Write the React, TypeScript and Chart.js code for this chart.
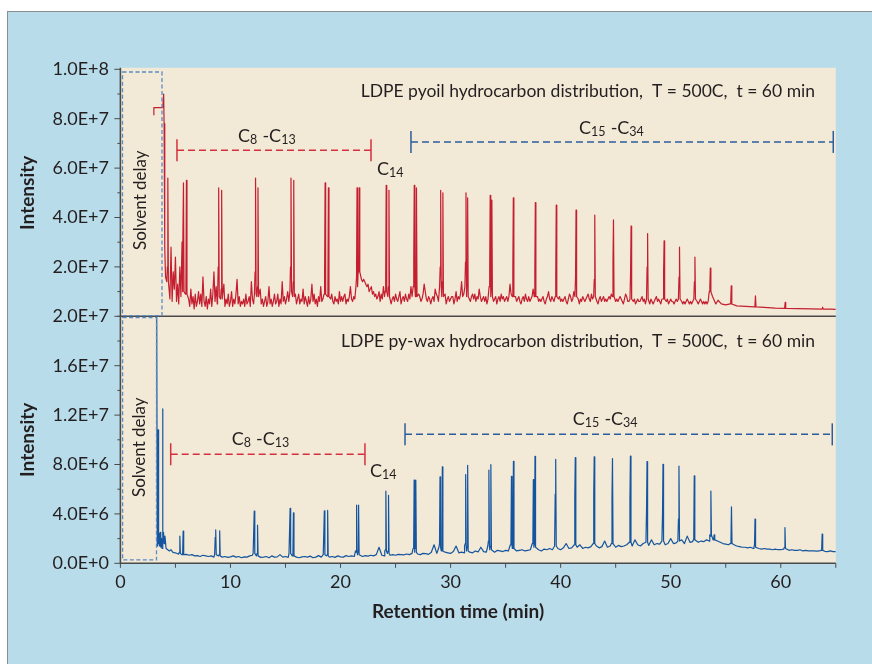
import React, { useEffect, useRef } from "react";
import { Chart, registerables } from "chart.js";

Chart.register(...registerables);

// ---------------- text ----------------
const FONT = "Lato, 'Open Sans', 'DejaVu Sans', sans-serif";
const Y_TITLE = "Intensity";
const X_TITLE = "Retention time (min)";
const TOP_TITLE = "LDPE pyoil hydrocarbon distribution,  T = 500C,  t = 60 min";
const BOT_TITLE = "LDPE py-wax hydrocarbon distribution,  T = 500C,  t = 60 min";
const SOLVENT = "Solvent delay";

// ---------------- axes ----------------
const X_MIN = 0;
const X_MAX = 65;
const X_STEP = 5;
const X_LABEL_STEP = 10;
const X_LABEL_MAX = 60;
const TOP_MAX = 1e8;
const TOP_STEP = 1e7;
const TOP_LABEL_STEP = 2e7;
const BOT_MAX = 2e7;
const BOT_STEP = 2e6;
const BOT_LABEL_STEP = 4e6;

const UNIT = 1e6; // all intensity values below are in units of 1E6

// ---------------- top panel: LDPE pyoil ----------------
// solvent-front part of the trace [time, intensity]
const topLead: [number, number][] = [
  [3.02, 81.5], [3.04, 84.5], [3.85, 84.5], [3.93, 90], [3.97, 78],
  [4.01, 50], [4.05, 28], [4.1, 16],
];
// baseline / noise sampled every 0.1 min from 4.2 min to 54.1 min (one row per minute)
const topNoiseStart = 4.2;
const topNoiseStep = 0.1;
const topNoise: number[] = [
  16, 9, 22, 7, 28, 6, 18, 11, 24, 6,
  13, 5, 20, 8, 30, 6, 12, 9, 5, 10,
  7, 4, 11, 5, 8, 3, 9, 4, 6, 10,
  5, 9, 4, 16, 6, 4, 8, 3, 7, 5,
  11, 4, 9, 18, 6, 12, 5, 7, 4, 8,
  5, 8, 13, 4, 7, 5, 9, 4, 6, 10,
  4, 7, 5, 9, 15, 5, 8, 4, 6, 5,
  7, 4, 9, 5, 6, 8, 4, 14, 7, 5,
  9, 6, 4, 8, 5, 11, 5, 7, 4, 6,
  8, 4, 6, 12, 5, 7, 4, 6, 9, 5,
  6, 9, 4, 7, 5, 14, 6, 8, 5, 7,
  10, 6, 7, 5, 8, 4, 6, 9, 5, 7,
  9, 5, 7, 6, 11, 5, 8, 6, 4, 8,
  5, 7, 13, 6, 9, 5, 7, 4, 8, 6,
  12, 6, 7, 5, 8, 6, 5, 9, 6, 7,
  9, 6, 5, 8, 6, 7, 5, 10, 6, 8,
  6, 8, 9, 5, 7, 6, 8, 12, 7, 6,
  8, 7, 6, 9, 7, 17, 16, 15, 14, 15,
  14, 13, 12, 13, 10, 11, 12, 9, 10, 8,
  9, 7, 8, 10, 6, 9, 7, 12, 8, 7,
  7, 6, 8, 9, 5, 7, 8, 6, 9, 7,
  6, 8, 10, 5, 7, 8, 6, 9, 7, 6,
  9, 7, 12, 8, 6, 7, 8, 5, 7, 9,
  8, 6, 7, 9, 13, 10, 7, 6, 8, 7,
  5, 7, 8, 6, 11, 9, 8, 6, 7, 9,
  7, 6, 8, 9, 5, 7, 8, 6, 7, 8,
  8, 5, 7, 10, 6, 8, 7, 9, 14, 8,
  9, 6, 7, 8, 5, 7, 6, 8, 9, 7,
  9, 6, 8, 7, 11, 8, 6, 7, 8, 6,
  8, 5, 7, 9, 6, 7, 8, 6, 7, 8,
  5, 7, 8, 6, 9, 7, 8, 6, 7, 8,
  6, 8, 13, 9, 8, 5, 7, 8, 6, 7,
  8, 6, 5, 7, 8, 6, 9, 7, 6, 8,
  6, 7, 8, 11, 7, 5, 7, 8, 6, 7,
  6, 7, 8, 6, 5, 7, 8, 10, 7, 6,
  8, 7, 6, 9, 7, 5, 7, 8, 6, 7,
  6, 7, 8, 6, 5, 7, 9, 8, 6, 7,
  10, 7, 6, 8, 7, 5, 7, 6, 8, 7,
  6, 7, 8, 9, 7, 6, 9, 7, 6, 7,
  7, 6, 5, 7, 8, 6, 7, 8, 6, 7,
  6, 7, 8, 7, 9, 6, 5, 7, 6, 7,
  6, 7, 8, 7, 6, 5, 7, 9, 8, 6,
  6, 7, 8, 7, 6, 7, 5, 6, 7, 6,
  6, 7, 8, 6, 7, 5, 6, 7, 6, 5,
  7, 6, 5, 6, 7, 8, 6, 7, 6, 5,
  7, 6, 5, 6, 6, 7, 5, 6, 7, 6,
  6, 5, 6, 7, 6, 5, 6, 7, 6, 5,
  6, 5, 6, 7, 6, 5, 6, 5, 6, 6,
  6, 5, 6, 5, 6, 7, 6, 5, 6, 5,
  6, 5, 6, 5, 9, 10, 8, 7, 6, 5,
];
// late, quiet baseline [time, intensity]
const topTail: [number, number][] = [
  [54.3, 6.5], [54.6, 5], [55.0, 4.6], [56.0, 4.2], [56.8, 4.0], [58.5, 3.6],
  [59.5, 3.3], [61.5, 3.1], [62.8, 3.0], [64.5, 2.9], [65, 2.8],
];
// peaks [time, apex, shoulder just before apex, foot]
const topPeaks: [number, number, number, number][] = [
  [4.31, 56, 20, 14],
  [5.73, 54, 24, 10], [6.0, 55, 14, 9],
  [8.93, 52, 20, 8], [9.2, 51, 11, 7],
  [12.28, 56, 18, 9], [12.5, 52, 12, 8],
  [15.5, 56, 20, 10], [15.75, 55, 14, 8],
  [18.6, 54, 18, 9], [18.9, 52, 13, 8],
  [21.5, 52, 16, 12], [21.7, 52, 20, 18],
  [24.15, 53, 16, 10], [24.4, 51, 12, 8],
  [26.7, 53, 24, 12], [26.9, 52, 14, 8],
  [29.1, 51, 20, 12], [29.3, 50, 14, 8],
  [31.4, 50, 22, 12], [31.55, 48, 14, 8],
  [33.6, 49, 20, 12], [33.75, 47, 12, 8],
  [35.7, 48, 18, 8],
  [37.7, 46, 18, 8],
  [39.6, 45, 16, 8],
  [41.4, 43, 16, 8],
  [43.1, 41, 15, 8],
  [44.8, 39, 22, 8],
  [46.4, 36.5, 18, 7],
  [47.9, 33.5, 20, 7],
  [49.4, 30.5, 18, 7],
  [50.8, 28, 16, 7],
  [52.2, 24, 14, 7],
  [53.6, 19.5, 12, 10],
  [55.5, 12.3, 6, 5],
  [57.7, 8.3, 4.5, 3.8],
  [60.4, 5.6, 3.5, 3.2],
  [63.8, 3.7, 3, 2.9],
];

// ---------------- bottom panel: LDPE py-wax ----------------
const botLead: [number, number][] = [
  [3.3, 20], [3.35, 1.4], [3.39, 2.0], [3.43, 10.8], [3.47, 1.6], [3.52, 2.4],
  [3.56, 1.4], [3.62, 2.5], [3.67, 1.3], [3.74, 2.0], [3.79, 1.2], [3.83, 12.5],
  [3.87, 2.0], [3.92, 2.5], [3.97, 1.6], [4.05, 2.2], [4.15, 1.2], [4.3, 1.1],
  [4.45, 1.0], [4.6, 1.1], [4.75, 0.9], [4.9, 0.85],
];
// baseline sampled every 0.25 min from 5 min to 65 min (one row per 2 min)
const botNoiseStart = 5;
const botNoiseStep = 0.25;
const botNoise: number[] = [
  0.85, 0.75, 0.8, 0.7, 0.72, 0.65, 0.7, 0.6,
  0.62, 0.55, 0.65, 0.6, 0.55, 0.6, 0.5, 0.58,
  0.6, 0.5, 0.55, 0.48, 0.52, 0.6, 0.5, 0.55,
  0.45, 0.52, 0.5, 0.6, 0.65, 0.5, 0.55, 0.48,
  0.5, 0.55, 0.45, 0.6, 0.5, 0.52, 0.7, 0.5,
  0.55, 0.48, 0.5, 0.6, 0.5, 0.45, 0.52, 0.55,
  0.5, 0.58, 0.45, 0.5, 0.62, 0.5, 0.55, 0.6,
  0.5, 0.55, 0.48, 0.6, 0.52, 0.5, 0.62, 0.55,
  0.6, 0.55, 0.65, 0.6, 0.55, 0.62, 0.58, 0.65,
  0.6, 0.7, 1.3, 0.65, 0.6, 0.72, 0.65, 0.7,
  0.65, 0.72, 0.7, 0.68, 0.75, 0.7, 0.8, 0.72,
  0.75, 0.7, 0.8, 0.78, 0.72, 0.9, 1.5, 0.8,
  0.85, 0.8, 0.9, 0.85, 0.8, 0.95, 1.4, 0.85,
  0.9, 0.85, 0.95, 0.9, 0.85, 1.0, 0.92, 1.3,
  0.95, 0.9, 1.0, 0.95, 0.9, 1.05, 1.0, 0.95,
  1.05, 1.0, 1.1, 1.4, 1.0, 1.05, 1.1, 1.0,
  1.05, 1.1, 1.2, 1.05, 1.1, 1.0, 1.15, 1.1,
  1.2, 1.1, 1.15, 1.2, 1.1, 1.25, 1.6, 1.2,
  1.25, 1.2, 1.3, 1.5, 1.2, 1.3, 1.25, 1.35,
  1.3, 1.4, 1.25, 1.35, 1.8, 1.3, 1.4, 1.35,
  1.3, 1.45, 1.35, 1.4, 1.5, 1.8, 1.4, 1.9,
  1.5, 1.4, 1.6, 1.5, 1.45, 1.9, 1.5, 1.6,
  1.55, 1.7, 1.5, 1.6, 2.0, 1.6, 1.65, 1.7,
  1.9, 1.6, 2.2, 1.7, 1.75, 1.9, 1.7, 1.8,
  1.75, 1.9, 1.8, 2.1, 2.0, 1.8, 1.7, 1.6,
  1.55, 1.5, 1.45, 1.5, 1.4, 1.35, 1.3, 1.3,
  1.25, 1.3, 1.2, 1.25, 1.2, 1.15, 1.2, 1.15,
  1.15, 1.1, 1.15, 1.1, 1.1, 1.15, 1.1, 1.05,
  1.1, 1.05, 1.05, 1.1, 1.0, 1.05, 1.0, 1.0,
  1.0, 0.98, 1.0, 0.95, 0.97, 0.95, 1.0, 0.95,
  0.95,
];
const botTail: [number, number][] = [];
// peaks [time, apex, shoulder just before apex, foot]
const botPeaks: [number, number, number, number][] = [
  [5.4, 2.2, 0.9, 0.8], [5.7, 2.6, 0.8, 0.7],
  [8.66, 2.7, 2.1, 0.7], [9.02, 2.63, 0.7, 0.6],
  [12.16, 4.22, 0.8, 0.8], [12.46, 3.09, 0.8, 0.6],
  [15.42, 4.44, 0.8, 0.8], [15.72, 4.09, 0.8, 0.6],
  [18.53, 4.25, 0.7, 0.7], [18.83, 4.28, 0.7, 0.6],
  [21.46, 4.71, 0.9, 1.0], [21.64, 4.71, 1.0, 0.7],
  [24.12, 5.84, 1.1, 1.0], [24.36, 5.5, 1.0, 0.8],
  [26.69, 6.73, 1.3, 1.2], [26.84, 6.73, 1.2, 0.9],
  [29.04, 7.0, 1.6, 1.3], [29.25, 7.8, 1.3, 1.0],
  [31.37, 7.19, 1.6, 1.4], [31.55, 7.94, 1.4, 1.0],
  [33.48, 7.54, 1.8, 1.4], [33.66, 8.0, 1.4, 1.1],
  [35.53, 7.05, 1.8, 1.5], [35.71, 8.26, 1.5, 1.2],
  [37.52, 6.78, 1.8, 1.6], [37.67, 8.67, 1.6, 1.3],
  [39.55, 8.42, 5.6, 1.4],
  [41.33, 8.56, 5.4, 1.5],
  [43.05, 8.61, 5.6, 1.6],
  [44.71, 8.48, 5.25, 1.6],
  [46.34, 8.69, 5.1, 1.7],
  [47.85, 8.24, 4.4, 1.7],
  [49.3, 8.02, 3.9, 1.8],
  [50.75, 7.88, 3.6, 1.8],
  [52.14, 7.08, 2.4, 1.9],
  [53.65, 5.84, 2.2, 2.3], [53.95, 2.3, 2.0, 1.9],
  [55.52, 4.57, 1.8, 1.6],
  [57.66, 3.58, 1.5, 1.3],
  [60.38, 2.9, 1.3, 1.2],
  [63.76, 2.37, 1.1, 1.05],
];

// ---------------- annotations (data coordinates) ----------------
type Bracket = { from: number; to: number; level: number; color: string; label: string[]; lx: number; ly: number };
const RED_ANN = "#d5303e";
const BLUE_ANN = "#2b5d9e";
const topBrackets: Bracket[] = [
  { from: 5.14, to: 22.77, level: 6.72e7, color: RED_ANN, label: ["C", "8", " -C", "13"], lx: 10.69, ly: 7.05e7 },
  { from: 26.4, to: 64.77, level: 7.06e7, color: BLUE_ANN, label: ["C", "15", " -C", "34"], lx: 41.67, ly: 7.37e7 },
];
const botBrackets: Bracket[] = [
  { from: 4.57, to: 22.22, level: 8.83e6, color: RED_ANN, label: ["C", "8", " -C", "13"], lx: 10.11, ly: 9.55e6 },
  { from: 25.86, to: 64.68, level: 1.044e7, color: BLUE_ANN, label: ["C", "15", " -C", "34"], lx: 41.1, ly: 1.117e7 },
];
const topC14 = { x: 23.31, y: 5.71e7 };
const botC14 = { x: 22.68, y: 6.97e6 };
const topSolventBox = { x0: 0.19, x1: 3.78, y0: 3e5, y1: 9.89e7, lx: 1.87, ly: 4.7e7 };
const botSolventBox = { x0: 0.2, x1: 3.28, y0: 2.7e5, y1: 1.99e7, lx: 1.78, ly: 9.4e6 };
const topTitlePos = { x: 63.11, y: 8.88e7 };
const botTitlePos = { x: 63.11, y: 1.755e7 };

// ---------------- styles ----------------
const INK = "#231f20";
const RED = "#c41e30";
const BLUE = "#15559f";
const BEIGE = "#f2e9d6";
const SKY = "#b9dcea";
const AXIS = "#4a4a4a";
const BOX_BLUE = "#5b8bc4";

type Pt = { x: number; y: number };
function buildTrace(
  lead: [number, number][],
  noiseStart: number,
  noiseStep: number,
  noise: number[],
  peaks: [number, number, number, number][],
  tail: [number, number][]
): Pt[] {
  const pts: Pt[] = lead.map(([t, v]) => ({ x: t, y: v * UNIT }));
  noise.forEach((v, i) => {
    const t = +(noiseStart + i * noiseStep).toFixed(3);
    if (peaks.some((p) => Math.abs(p[0] - t) < 0.12)) return;
    pts.push({ x: t, y: v * UNIT });
  });
  peaks.forEach(([t, h, sh, ft]) => {
    pts.push(
      { x: t - 0.1, y: ft * UNIT },
      { x: t - 0.045, y: sh * UNIT },
      { x: t, y: h * UNIT },
      { x: t + 0.05, y: ft * UNIT }
    );
  });
  tail.forEach(([t, v]) => pts.push({ x: t, y: v * UNIT }));
  pts.sort((a, b) => a.x - b.x);
  return pts;
}

const isMultiple = (v: number, step: number) => Math.abs(v / step - Math.round(v / step)) < 1e-6;
const fmtE = (v: number) => v.toExponential(1).toUpperCase();

function drawSubText(ctx: CanvasRenderingContext2D, parts: string[], x: number, y: number) {
  let cx = x;
  parts.forEach((p, i) => {
    const sub = i % 2 === 1;
    ctx.font = sub ? `12.5px ${FONT}` : `18px ${FONT}`;
    ctx.fillText(p, cx, sub ? y + 2 : y);
    cx += ctx.measureText(p).width + (sub ? 0.5 : 0);
  });
}

const decorPlugin = {
  id: "decor",
  beforeDraw(chart: any) {
    const { ctx, chartArea: a } = chart;
    ctx.save();
    ctx.fillStyle = BEIGE;
    ctx.fillRect(a.left, a.top - 1.5, a.right - a.left, a.bottom - a.top + 2);
    ctx.restore();
  },
  afterDatasetsDraw(chart: any) {
    const { ctx, chartArea: a, scales } = chart;
    const xs = scales.x;
    const yT = scales.yTop;
    const yB = scales.yBot;
    const line = (x0: number, y0: number, x1: number, y1: number) => {
      ctx.beginPath();
      ctx.moveTo(x0, y0);
      ctx.lineTo(x1, y1);
      ctx.stroke();
    };
    ctx.save();
    // axes
    ctx.strokeStyle = AXIS;
    ctx.lineWidth = 1.6;
    const mid = yB.getPixelForValue(BOT_MAX);
    line(a.left, a.top - 1.5, a.left, a.bottom + 0.8);
    line(a.left, mid, a.right, mid);
    line(a.left, a.bottom, a.right, a.bottom);
    ctx.lineWidth = 1;
    for (const s of [yT, yB]) {
      s.ticks.forEach((t: any) => {
        const p = s.getPixelForValue(t.value);
        const len = t.label ? 6 : 3;
        line(a.left - len, p, a.left, p);
      });
    }
    xs.ticks.forEach((t: any) => {
      const p = xs.getPixelForValue(t.value);
      line(p, a.bottom, p, a.bottom + 4.5);
    });

    // solvent delay boxes
    const drawBox = (b: typeof topSolventBox, ys: any) => {
      const x0 = xs.getPixelForValue(b.x0);
      const x1 = xs.getPixelForValue(b.x1);
      const y0 = ys.getPixelForValue(b.y0);
      const y1 = ys.getPixelForValue(b.y1);
      ctx.save();
      ctx.strokeStyle = BOX_BLUE;
      ctx.lineWidth = 1.3;
      ctx.setLineDash([4, 2.5]);
      ctx.strokeRect(x0, y1, x1 - x0, y0 - y1);
      ctx.restore();
      ctx.save();
      ctx.translate(xs.getPixelForValue(b.lx), ys.getPixelForValue(b.ly));
      ctx.rotate(-Math.PI / 2);
      ctx.fillStyle = INK;
      ctx.font = `17px ${FONT}`;
      ctx.textAlign = "center";
      ctx.textBaseline = "middle";
      ctx.fillText(SOLVENT, 0, 0);
      ctx.restore();
    };
    drawBox(topSolventBox, yT);
    drawBox(botSolventBox, yB);

    // brackets
    const drawBracket = (b: Bracket, ys: any) => {
      const x0 = xs.getPixelForValue(b.from);
      const x1 = xs.getPixelForValue(b.to);
      const y = ys.getPixelForValue(b.level);
      ctx.save();
      ctx.strokeStyle = b.color;
      ctx.lineWidth = 1.5;
      ctx.setLineDash([7, 4]);
      line(x0, y, x1, y);
      ctx.setLineDash([]);
      line(x0, y - 11, x0, y + 11);
      line(x1, y - 11, x1, y + 11);
      ctx.fillStyle = INK;
      ctx.textAlign = "left";
      ctx.textBaseline = "alphabetic";
      drawSubText(ctx, b.label, xs.getPixelForValue(b.lx), ys.getPixelForValue(b.ly));
      ctx.restore();
    };
    topBrackets.forEach((b) => drawBracket(b, yT));
    botBrackets.forEach((b) => drawBracket(b, yB));
    ctx.fillStyle = INK;
    ctx.textBaseline = "alphabetic";
    ctx.textAlign = "left";
    drawSubText(ctx, ["C", "14"], xs.getPixelForValue(topC14.x), yT.getPixelForValue(topC14.y));
    drawSubText(ctx, ["C", "14"], xs.getPixelForValue(botC14.x), yB.getPixelForValue(botC14.y));

    // panel titles
    ctx.font = `17.5px ${FONT}`;
    ctx.textAlign = "right";
    ctx.fillText(TOP_TITLE, xs.getPixelForValue(topTitlePos.x), yT.getPixelForValue(topTitlePos.y));
    ctx.fillText(BOT_TITLE, xs.getPixelForValue(botTitlePos.x), yB.getPixelForValue(botTitlePos.y));

    // x-axis title
    ctx.font = `bold 19px ${FONT}`;
    ctx.textAlign = "center";
    ctx.textBaseline = "middle";
    ctx.fillText(X_TITLE, 458, 612);
    ctx.restore();
  },
};

export default function App() {
  const ref = useRef<HTMLCanvasElement>(null);
  useEffect(() => {
    const topData = buildTrace(topLead, topNoiseStart, topNoiseStep, topNoise, topPeaks, topTail);
    const botData = buildTrace(botLead, botNoiseStart, botNoiseStep, botNoise, botPeaks, botTail);
    const tickFont = { family: FONT, size: 18 };
    const titleFont = { family: FONT, size: 19, weight: "bold" as const };
    const chart = new Chart(ref.current as HTMLCanvasElement, {
      type: "line",
      data: {
        datasets: [
          {
            label: "pyoil",
            data: topData as any,
            xAxisID: "x",
            yAxisID: "yTop",
            borderColor: RED,
            borderWidth: 1.2,
            borderJoinStyle: "round",
            pointRadius: 0,
            tension: 0,
            fill: false,
          },
          {
            label: "py-wax",
            data: botData as any,
            xAxisID: "x",
            yAxisID: "yBot",
            borderColor: BLUE,
            borderWidth: 1.2,
            borderJoinStyle: "round",
            pointRadius: 0,
            tension: 0,
            fill: false,
          },
        ],
      },
      options: {
        animation: false,
        responsive: false,
        devicePixelRatio: 1,
        parsing: false,
        normalized: true,
        layout: { padding: { left: 0, top: 69.3, right: 36.2, bottom: 0 } },
        plugins: { legend: { display: false }, tooltip: { enabled: false } },
        scales: {
          x: {
            type: "linear",
            position: "bottom",
            min: X_MIN,
            max: X_MAX,
            afterFit: (s: any) => {
              s.height = 100.7;
            },
            grid: { display: false, drawTicks: false },
            border: { display: false },
            ticks: {
              stepSize: X_STEP,
              autoSkip: false,
              maxRotation: 0,
              padding: 8.5,
              color: INK,
              font: tickFont,
              callback: (v: any) => (isMultiple(v, X_LABEL_STEP) && v <= X_LABEL_MAX ? String(v) : ""),
            },
          },
          yTop: {
            type: "linear",
            position: "left",
            stack: "panels",
            stackWeight: 1,
            weight: 1,
            min: 0,
            max: TOP_MAX,
            afterFit: (s: any) => {
              s.width = 120.4;
            },
            grid: { display: false, drawTicks: false },
            border: { display: false },
            ticks: {
              stepSize: TOP_STEP,
              autoSkip: false,
              padding: 11.4,
              color: INK,
              font: tickFont,
              callback: (v: any) => (v !== 0 && isMultiple(v, TOP_LABEL_STEP) ? fmtE(v) : ""),
            },
            title: { display: true, text: Y_TITLE, color: INK, font: titleFont, padding: { top: 16.6, bottom: 0 } },
          },
          yBot: {
            type: "linear",
            position: "left",
            stack: "panels",
            stackWeight: 1,
            weight: 0,
            min: 0,
            max: BOT_MAX,
            afterFit: (s: any) => {
              s.width = 120.4;
            },
            grid: { display: false, drawTicks: false },
            border: { display: false },
            ticks: {
              stepSize: BOT_STEP,
              autoSkip: false,
              padding: 11.4,
              color: INK,
              font: tickFont,
              callback: (v: any) => (isMultiple(v, BOT_LABEL_STEP) ? fmtE(v) : ""),
            },
            title: { display: true, text: Y_TITLE, color: INK, font: titleFont, padding: { top: 16.6, bottom: 0 } },
          },
        } as any,
      },
      plugins: [decorPlugin],
    });
    return () => chart.destroy();
  }, []);

  return (
    <div style={{ position: "fixed", left: 0, top: 0, width: 872, height: 664, background: "#ffffff", overflow: "hidden" }}>
      <div
        style={{
          position: "absolute",
          left: 7,
          top: 11,
          right: 0,
          bottom: 0,
          background: SKY,
          borderLeft: "1px solid #8a8e92",
          borderTop: "1px solid #8a8e92",
        }}
      />
      <canvas ref={ref} width={872} height={664} style={{ position: "absolute", left: 0, top: 0, width: 872, height: 664 }} />
    </div>
  );
}
